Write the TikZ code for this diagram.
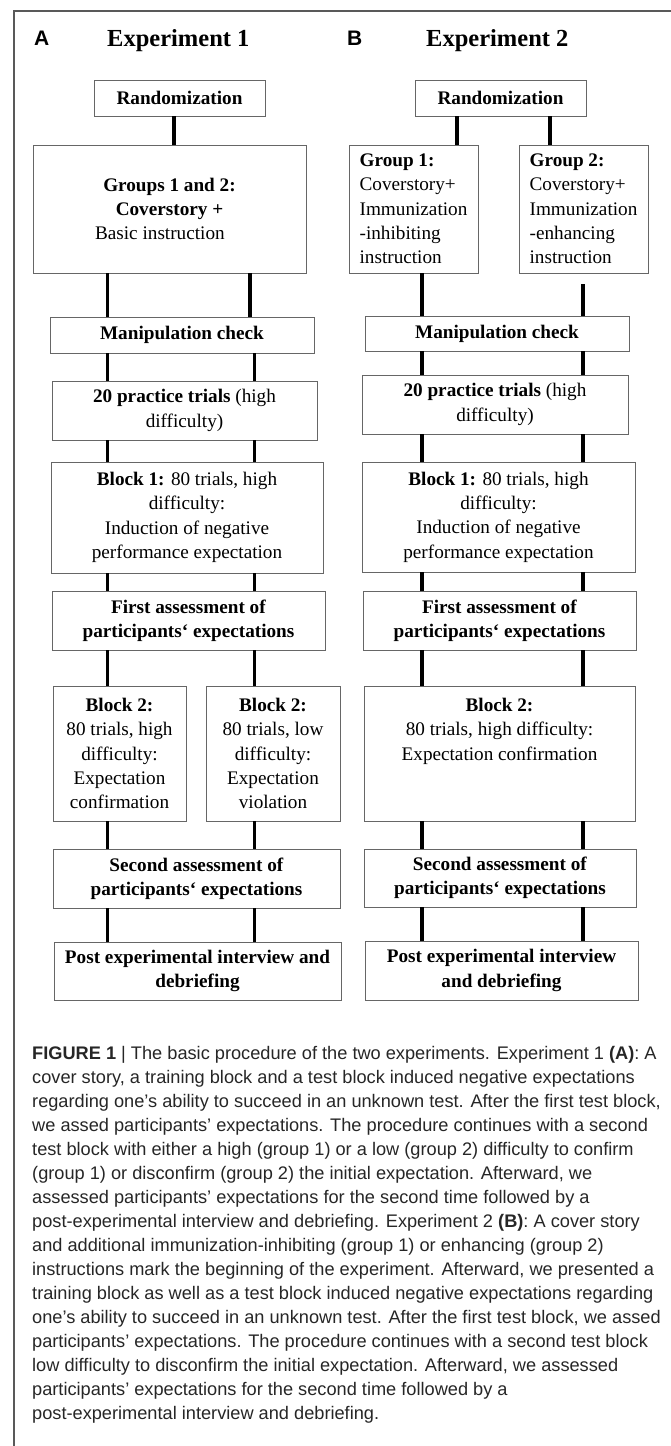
\documentclass[tikz,border=0pt]{standalone}
\usepackage{fontspec}
\setmainfont{Liberation Serif}
\newfontfamily\capfont[Ligatures=TeX]{Liberation Sans}
\usepackage{tikz}
\usepackage{xcolor}

\begin{document}
\begin{tikzpicture}[x=1pt, y=-1pt,
		stage/.style={draw=black!60, line width=0.9pt, inner sep=0pt, align=center, font=\fontsize{19.2}{24.3}\selectfont},
		link/.style={line width=3.2pt},
		frame/.style={draw=black!65, line width=1.5pt},
		caption/.style={anchor=base west, inner sep=0pt, text=black!85, font=\capfont\fontsize{18.2}{24}\selectfont}] % {{{
		\pgfmathsetmacro{\capskip}{24.04}
		\useasboundingbox (0,0) rectangle (671,1446);
		\draw[frame] (671,11) -- (14,11) -- (14,1446);
		% Titulos {{{
		\node[anchor=base west, inner sep=0pt, font=\capfont\bfseries\fontsize{21}{21}\selectfont] (labA) at (34,45) {A};
		\node[anchor=base west, inner sep=0pt, font=\bfseries\fontsize{24.5}{24.5}\selectfont] (titA) at (107,46) {Experiment 1};
		\node[anchor=base west, inner sep=0pt, font=\capfont\bfseries\fontsize{21}{21}\selectfont] (labB) at (347,45) {B};
		\node[anchor=base west, inner sep=0pt, font=\bfseries\fontsize{24.5}{24.5}\selectfont] (titB) at (426,46) {Experiment 2};
		% }}}
		% Experimento 1 {{{
		\node[stage, minimum width=171, minimum height=36] (rA) at (179.5,98) {\textbf{Randomization}};
		\node[stage, minimum width=273, minimum height=128] (gA) at (169.5,209) {\textbf{Groups 1 and 2:}\\\textbf{Coverstory +}\\Basic instruction\hspace*{1em}};
		\node[stage, minimum width=264, minimum height=36] (mA) at (182,335) {\textbf{Manipulation check}};
		\node[stage, minimum width=265, minimum height=59] (pA) at (184.5,410.5) {\textbf{20 practice trials} (high\\difficulty)};
		\node[stage, minimum width=272, minimum height=111] (b1A) at (187,517.5) {\textbf{Block 1:} 80 trials, high\\difficulty:\\Induction of negative\\performance expectation};
		\node[stage, minimum width=273, minimum height=59] (fA) at (188.5,620.5) {\textbf{First assessment of}\\\textbf{participants` expectations}};
		\node[stage, minimum width=133, minimum height=135] (b2Al) at (119.5,753.5) {\textbf{Block 2:}\\80 trials, high\\difficulty:\\Expectation\\confirmation};
		\node[stage, minimum width=134, minimum height=135] (b2Ar) at (273,753.5) {\textbf{Block 2:}\\80 trials, low\\difficulty:\\Expectation\\violation};
		\node[stage, minimum width=287, minimum height=59] (sA) at (196.5,878.5) {\textbf{Second assessment of}\\\textbf{participants` expectations}};
		\node[stage, minimum width=287, minimum height=58] (eA) at (197.5,971) {\textbf{Post experimental interview and}\\\textbf{debriefing}};
		% }}}
		% Experimento 2 {{{
		\node[stage, minimum width=171, minimum height=36] (rB) at (500.5,98) {\textbf{Randomization}};
		\node[stage, minimum width=129, minimum height=128, align=left] (g1B) at (413.5,209) {\textbf{Group 1:}\\Coverstory+\\Immunization\\-inhibiting\\instruction};
		\node[stage, minimum width=129, minimum height=128, align=left] (g2B) at (583.5,209) {\textbf{Group 2:}\\Coverstory+\\Immunization\\-enhancing\\instruction};
		\node[stage, minimum width=264, minimum height=35] (mB) at (497,333.5) {\textbf{Manipulation check}};
		\node[stage, minimum width=266, minimum height=59] (pB) at (495,404.5) {\textbf{20 practice trials} (high\\difficulty)};
		\node[stage, minimum width=273, minimum height=110] (b1B) at (498.5,517) {\textbf{Block 1:} 80 trials, high\\difficulty:\\Induction of negative\\performance expectation};
		\node[stage, minimum width=273, minimum height=59] (fB) at (499.5,620.5) {\textbf{First assessment of}\\\textbf{participants` expectations}};
		\node[stage, minimum width=271, minimum height=135] (b2B) at (499.5,753.5) {\textbf{Block 2:}\\80 trials, high difficulty:\\Expectation confirmation\\~\\~};
		\node[stage, minimum width=272, minimum height=58] (sB) at (500,878) {\textbf{Second assessment of}\\\textbf{participants` expectations}};
		\node[stage, minimum width=273, minimum height=59] (eB) at (501.5,970.5) {\textbf{Post experimental interview}\\\textbf{and debriefing}};
		% }}}
		% Conexiones {{{
		\coordinate (railA0) at (174,0);
		\coordinate (railAg) at (250,0);
		\coordinate (railAl) at (107.5,0);
		\coordinate (railAr) at (254.5,0);
		\coordinate (railB1) at (457,0);
		\coordinate (railB2) at (550,0);
		\coordinate (railBl) at (422,0);
		\coordinate (railBr) at (583,0);
		\coordinate (g2Bend) at (583,284);
		\draw[link] (rA.south -| railA0) -- (gA.north -| railA0);
		\draw[link] (gA.south -| railAl) -- (mA.north -| railAl);
		\draw[link] (gA.south -| railAg) -- (mA.north -| railAg);
		\draw[link] (mA.south -| railAl) -- (pA.north -| railAl);
		\draw[link] (mA.south -| railAr) -- (pA.north -| railAr);
		\draw[link] (pA.south -| railAl) -- (b1A.north -| railAl);
		\draw[link] (pA.south -| railAr) -- (b1A.north -| railAr);
		\draw[link] (b1A.south -| railAl) -- (fA.north -| railAl);
		\draw[link] (b1A.south -| railAr) -- (fA.north -| railAr);
		\draw[link] (fA.south -| railAl) -- (b2Al.north -| railAl);
		\draw[link] (fA.south -| railAr) -- (b2Ar.north -| railAr);
		\draw[link] (b2Al.south -| railAl) -- (sA.north -| railAl);
		\draw[link] (b2Ar.south -| railAr) -- (sA.north -| railAr);
		\draw[link] (sA.south -| railAl) -- (eA.north -| railAl);
		\draw[link] (sA.south -| railAr) -- (eA.north -| railAr);
		%
		\draw[link] (rB.south -| railB1) -- (g1B.north -| railB1);
		\draw[link] (rB.south -| railB2) -- (g2B.north -| railB2);
		\draw[link] (g1B.south -| railBl) -- (mB.north -| railBl);
		\draw[link] (g2Bend) -- (mB.north -| g2Bend);
		\draw[link] (mB.south -| railBl) -- (pB.north -| railBl);
		\draw[link] (mB.south -| railBr) -- (pB.north -| railBr);
		\draw[link] (pB.south -| railBl) -- (b1B.north -| railBl);
		\draw[link] (pB.south -| railBr) -- (b1B.north -| railBr);
		\draw[link] (b1B.south -| railBl) -- (fB.north -| railBl);
		\draw[link] (b1B.south -| railBr) -- (fB.north -| railBr);
		\draw[link] (fB.south -| railBl) -- (b2B.north -| railBl);
		\draw[link] (fB.south -| railBr) -- (b2B.north -| railBr);
		\draw[link] (b2B.south -| railBl) -- (sB.north -| railBl);
		\draw[link] (b2B.south -| railBr) -- (sB.north -| railBr);
		\draw[link] (sB.south -| railBl) -- (eB.north -| railBl);
		\draw[link] (sB.south -| railBr) -- (eB.north -| railBr);
		% }}}
		% Leyenda {{{
		\node[caption] (cap1) at (32,1059.3) {\textbf{FIGURE 1} | The basic procedure of the two experiments. Experiment 1 \textbf{(A)}: A};
		\node[caption] (cap2) at (32,1059.3+1*\capskip) {cover story, a training block and a test block induced negative expectations};
		\node[caption] (cap3) at (32,1059.3+2*\capskip) {regarding one’s ability to succeed in an unknown test. After the first test block,};
		\node[caption] (cap4) at (32,1059.3+3*\capskip) {we assed participants’ expectations. The procedure continues with a second};
		\node[caption] (cap5) at (32,1059.3+4*\capskip) {test block with either a high (group 1) or a low (group 2) difficulty to confirm};
		\node[caption] (cap6) at (32,1059.3+5*\capskip) {(group 1) or disconfirm (group 2) the initial expectation. Afterward, we};
		\node[caption] (cap7) at (32,1059.3+6*\capskip) {assessed participants’ expectations for the second time followed by a};
		\node[caption] (cap8) at (32,1059.3+7*\capskip) {post-experimental interview and debriefing. Experiment 2 \textbf{(B)}: A cover story};
		\node[caption] (cap9) at (32,1059.3+8*\capskip) {and additional immunization-inhibiting (group 1) or enhancing (group 2)};
		\node[caption] (cap10) at (32,1059.3+9*\capskip) {instructions mark the beginning of the experiment. Afterward, we presented a};
		\node[caption] (cap11) at (32,1059.3+10*\capskip) {training block as well as a test block induced negative expectations regarding};
		\node[caption] (cap12) at (32,1059.3+11*\capskip) {one’s ability to succeed in an unknown test. After the first test block, we assed};
		\node[caption] (cap13) at (32,1059.3+12*\capskip) {participants’ expectations. The procedure continues with a second test block};
		\node[caption] (cap14) at (32,1059.3+13*\capskip) {low difficulty to disconfirm the initial expectation. Afterward, we assessed};
		\node[caption] (cap15) at (32,1059.3+14*\capskip) {participants’ expectations for the second time followed by a};
		\node[caption] (cap16) at (32,1059.3+15*\capskip) {post-experimental interview and debriefing.};
		% }}}
		\end{tikzpicture}
\end{document}
